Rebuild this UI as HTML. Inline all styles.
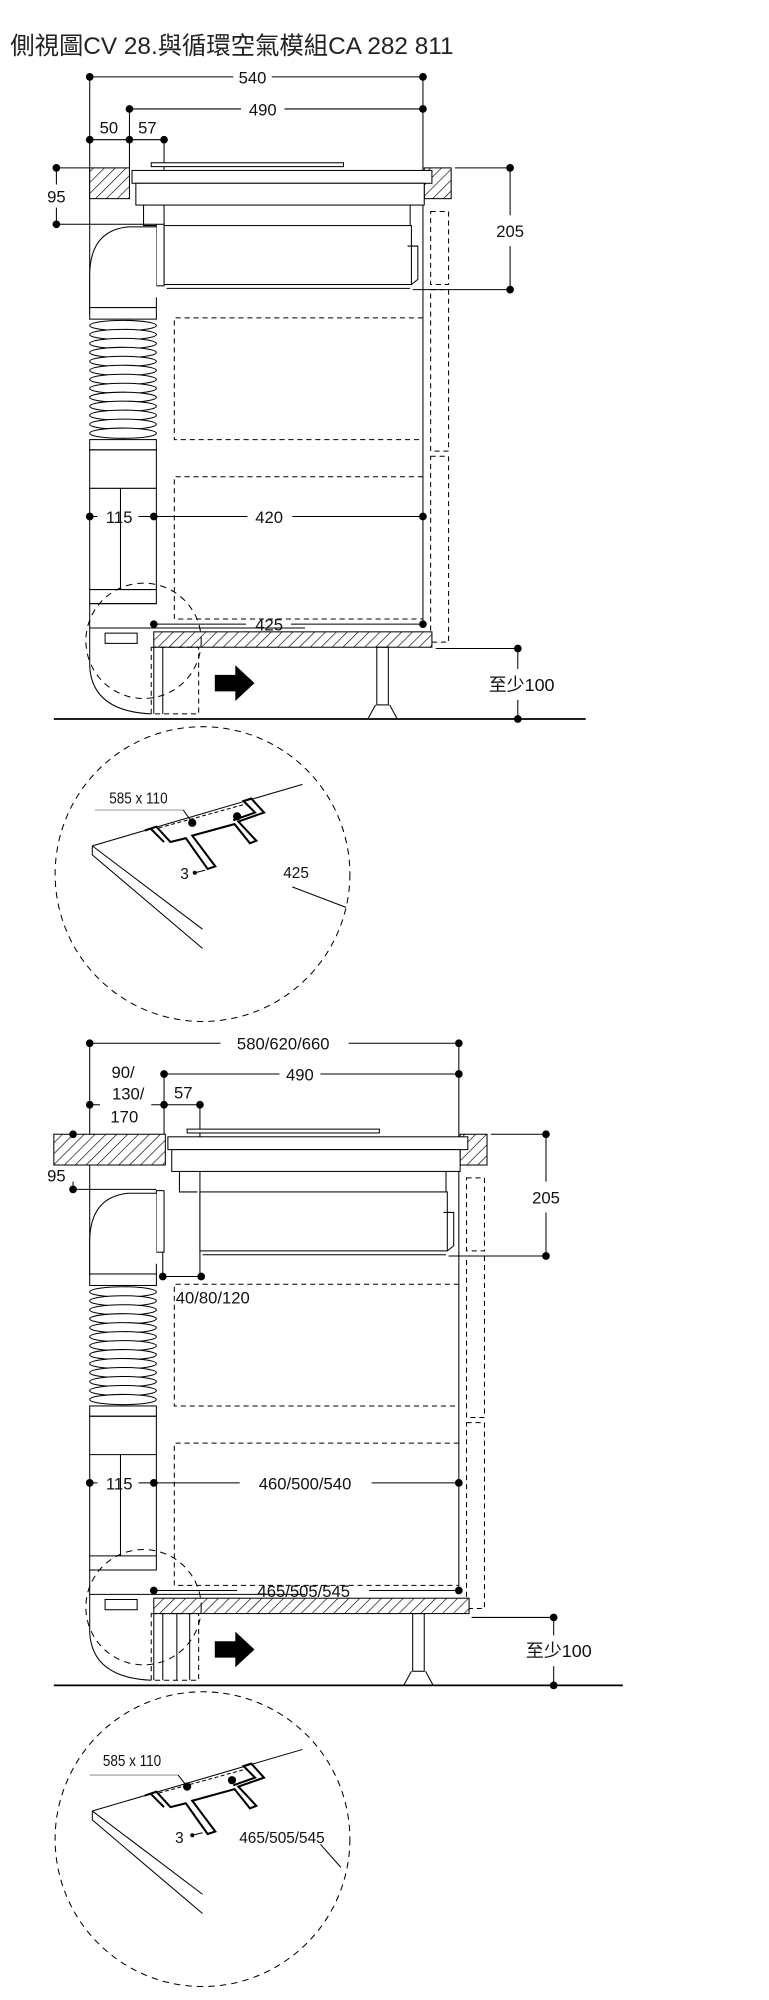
<!DOCTYPE html>
<html><head><meta charset="utf-8"><style>html,body{margin:0;padding:0;background:#fff}svg{display:block}</style></head><body>
<svg width="769" height="2000" viewBox="0 0 600 1560.5" preserveAspectRatio="none" xmlns="http://www.w3.org/2000/svg" font-family="Liberation Sans, Noto Sans CJK TC, sans-serif">
<defs>
<pattern id="h" width="6" height="6" patternUnits="userSpaceOnUse" patternTransform="rotate(45)"><rect width="6" height="6" fill="#fff"/><line x1="0" y1="0" x2="0" y2="6" stroke="#000" stroke-width="1"/></pattern>
</defs>
<text x="8" y="42" font-size="19" fill="#222">側視圖CV 28.與循環空氣模組CA 282 811</text>

<g stroke="#000" fill="none" stroke-width="0.8">
<!-- ===== TOP DIAGRAM ===== -->
<!-- dims lines -->
<line x1="70" y1="60" x2="182" y2="60"/><line x1="212" y1="60" x2="330" y2="60"/>
<line x1="101" y1="85" x2="188" y2="85"/><line x1="222" y1="85" x2="330" y2="85"/>
<line x1="70" y1="109" x2="128" y2="109"/>
<line x1="70" y1="60" x2="70" y2="245"/><line x1="101" y1="85" x2="101" y2="131"/><line x1="128" y1="109" x2="128" y2="178"/>
<line x1="330" y1="60" x2="330" y2="487"/>
<line x1="44" y1="131" x2="70" y2="131"/><line x1="44" y1="175" x2="122" y2="175"/><line x1="44" y1="131" x2="44" y2="144"/><line x1="44" y1="162" x2="44" y2="175"/>
<line x1="355" y1="131" x2="398" y2="131"/><line x1="322" y1="226" x2="398" y2="226"/><line x1="398" y1="131" x2="398" y2="168"/><line x1="398" y1="192" x2="398" y2="226"/>
<line x1="70" y1="403" x2="76" y2="403"/><line x1="108" y1="403" x2="120" y2="403"/><line x1="120" y1="403" x2="193" y2="403"/><line x1="228" y1="403" x2="330" y2="403"/>
<line x1="120" y1="487" x2="192" y2="487"/><line x1="227" y1="487" x2="330" y2="487"/>
<line x1="340" y1="506" x2="404" y2="506"/><line x1="404" y1="506" x2="404" y2="522"/><line x1="404" y1="546" x2="404" y2="561"/>
<line x1="42" y1="561" x2="457" y2="561" stroke-width="1.4"/>
<!-- counters -->
<rect x="70" y="131" width="31" height="24" fill="url(#h)"/>
<rect x="331" y="131" width="21" height="24" fill="url(#h)"/>
<!-- hob -->
<rect x="118" y="127" width="150" height="3" fill="#fff"/>
<rect x="103" y="133" width="234" height="10" fill="#fff"/>
<rect x="106" y="143" width="225" height="17" fill="#fff"/>
<path d="M112,160 V176 H126 M320,160 V176" />
<rect x="128" y="176" width="193" height="46" fill="#fff"/>
<path d="M318,192 H326 V218 L321,222"/>
<line x1="130" y1="225" x2="320" y2="225"/>
<rect x="122" y="175" width="6" height="48" fill="#fff"/>
<!-- dashed column & drawers -->
<g stroke-dasharray="4,3">
<rect x="336" y="165" width="14" height="57"/><rect x="336" y="226" width="14" height="126"/><rect x="336" y="356" width="14" height="145"/>
<path d="M330,248 H136 V343 H330 M330,372 H136 V483 H330"/>
</g>
<!-- pipe -->
<path d="M122,177 H100 Q70,180 70,215 V240 H122 V232" fill="#fff"/>
<rect x="70" y="240" width="52" height="9" fill="#fff"/>
<g fill="#fff"><ellipse cx="96" cy="254" rx="26" ry="4"/><ellipse cx="96" cy="261" rx="26" ry="4"/><ellipse cx="96" cy="268" rx="26" ry="4"/><ellipse cx="96" cy="275" rx="26" ry="4"/><ellipse cx="96" cy="282" rx="26" ry="4"/><ellipse cx="96" cy="289" rx="26" ry="4"/><ellipse cx="96" cy="296" rx="26" ry="4"/><ellipse cx="96" cy="303" rx="26" ry="4"/><ellipse cx="96" cy="310" rx="26" ry="4"/><ellipse cx="96" cy="317" rx="26" ry="4"/><ellipse cx="96" cy="324" rx="26" ry="4"/><ellipse cx="96" cy="331" rx="26" ry="4"/><ellipse cx="96" cy="338" rx="26" ry="4"/></g>
<rect x="70" y="343" width="52" height="8" fill="#fff"/>
<rect x="70" y="351" width="52" height="120"/>
<line x1="70" y1="381" x2="122" y2="381"/><line x1="94" y1="381" x2="94" y2="460"/>
<line x1="70" y1="460" x2="122" y2="460"/><line x1="70" y1="471" x2="122" y2="471"/>
<path d="M70,471 V520 Q72,555 118,557"/>
<!-- bottom counter -->
<line x1="70" y1="490" x2="238" y2="490"/>
<rect x="82" y="494" width="25" height="8"/>
<rect x="120" y="493" width="217" height="12" fill="url(#h)"/>
<line x1="120" y1="505" x2="120" y2="557"/><line x1="127" y1="505" x2="127" y2="557"/>
<rect x="118" y="505" width="37" height="52" stroke-dasharray="4,3"/>
<circle cx="112" cy="500" r="45" stroke-dasharray="5,4"/>
<rect x="294" y="505" width="9" height="45"/>
<path d="M293,550 L287,561 H310 L304,550"/>
<path d="M168,527 H184 V520 L198,533 L184,546 V539 H168 Z" fill="#000"/>
<!-- detail circle 1 -->
<circle cx="158" cy="682" r="115" stroke-dasharray="5,4"/>
<line x1="74" y1="632" x2="143" y2="632" stroke="#999"/><line x1="143" y1="632" x2="150" y2="642"/>
<path d="M72,660 L236,612 M72,660 V667 L158,740 M72,660 L158,725"/>
<path d="M113,648 L122,645 L133,657 L145,654 L162,678 L168,676 L150,652 L183,643 L195,658 L200,656 L186,641 L206,634 L196,623 L190,625 L199,634 L182,640 M118,647 L128,657" stroke-width="1.6"/>
<path d="M124,646 L193,627" stroke-dasharray="3,2"/>
<line x1="152" y1="681" x2="160" y2="679"/>
<line x1="228" y1="692" x2="270" y2="708"/>

<!-- ===== BOTTOM DIAGRAM ===== -->
<line x1="70" y1="814" x2="172" y2="814"/><line x1="272" y1="814" x2="358" y2="814"/>
<line x1="128" y1="838" x2="218" y2="838"/><line x1="250" y1="838" x2="358" y2="838"/>
<line x1="70" y1="862" x2="78" y2="862"/><line x1="118" y1="862" x2="156" y2="862"/>
<line x1="70" y1="814" x2="70" y2="995"/><line x1="128" y1="838" x2="128" y2="885"/><line x1="156" y1="862" x2="156" y2="996"/>
<line x1="358" y1="814" x2="358" y2="1241"/>
<line x1="57" y1="928" x2="122" y2="928"/><line x1="57" y1="885" x2="57" y2="906"/><line x1="57" y1="922" x2="57" y2="928"/>
<line x1="383" y1="885" x2="426" y2="885"/><line x1="350" y1="980" x2="426" y2="980"/><line x1="426" y1="885" x2="426" y2="922"/><line x1="426" y1="946" x2="426" y2="980"/>
<line x1="127" y1="996" x2="157" y2="996"/><line x1="127" y1="960" x2="127" y2="996"/>
<line x1="70" y1="1157" x2="76" y2="1157"/><line x1="108" y1="1157" x2="120" y2="1157"/><line x1="120" y1="1157" x2="187" y2="1157"/><line x1="290" y1="1157" x2="358" y2="1157"/>
<line x1="120" y1="1241" x2="185" y2="1241"/><line x1="288" y1="1241" x2="358" y2="1241"/>
<line x1="368" y1="1262" x2="432" y2="1262"/><line x1="432" y1="1262" x2="432" y2="1276"/><line x1="432" y1="1300" x2="432" y2="1315"/>
<line x1="42" y1="1315" x2="486" y2="1315" stroke-width="1.4"/>
<rect x="42" y="885" width="87" height="24" fill="url(#h)"/>
<rect x="359" y="885" width="21" height="24" fill="url(#h)"/>
<rect x="146" y="881" width="150" height="3" fill="#fff"/>
<rect x="131" y="887" width="234" height="10" fill="#fff"/>
<rect x="134" y="897" width="225" height="17" fill="#fff"/>
<path d="M140,914 V930 H154 M348,914 V930"/>
<rect x="156" y="930" width="193" height="46" fill="#fff"/>
<path d="M346,946 H354 V972 L349,976"/>
<line x1="158" y1="979" x2="348" y2="979"/>
<rect x="122" y="929" width="6" height="48" fill="#fff"/>
<g stroke-dasharray="4,3">
<rect x="364" y="919" width="14" height="57"/><rect x="364" y="980" width="14" height="126"/><rect x="364" y="1110" width="14" height="145"/>
<path d="M358,1002 H136 V1097 H358 M358,1126 H136 V1237 H358"/>
</g>
<path d="M122,931 H100 Q70,934 70,969 V994 H122 V986" fill="#fff"/>
<rect x="70" y="994" width="52" height="9" fill="#fff"/>
<g fill="#fff"><ellipse cx="96" cy="1008" rx="26" ry="4"/><ellipse cx="96" cy="1015" rx="26" ry="4"/><ellipse cx="96" cy="1022" rx="26" ry="4"/><ellipse cx="96" cy="1029" rx="26" ry="4"/><ellipse cx="96" cy="1036" rx="26" ry="4"/><ellipse cx="96" cy="1043" rx="26" ry="4"/><ellipse cx="96" cy="1050" rx="26" ry="4"/><ellipse cx="96" cy="1057" rx="26" ry="4"/><ellipse cx="96" cy="1064" rx="26" ry="4"/><ellipse cx="96" cy="1071" rx="26" ry="4"/><ellipse cx="96" cy="1078" rx="26" ry="4"/><ellipse cx="96" cy="1085" rx="26" ry="4"/><ellipse cx="96" cy="1092" rx="26" ry="4"/></g>
<rect x="70" y="1097" width="52" height="8" fill="#fff"/>
<rect x="70" y="1105" width="52" height="120"/>
<line x1="70" y1="1135" x2="122" y2="1135"/><line x1="94" y1="1135" x2="94" y2="1214"/>
<line x1="70" y1="1214" x2="122" y2="1214"/><line x1="70" y1="1225" x2="122" y2="1225"/>
<path d="M70,1225 V1274 Q72,1309 118,1311"/>
<line x1="70" y1="1244" x2="238" y2="1244"/>
<rect x="82" y="1248" width="25" height="8"/>
<rect x="120" y="1247" width="246" height="12" fill="url(#h)"/>
<line x1="120" y1="1259" x2="120" y2="1311"/><line x1="127" y1="1259" x2="127" y2="1311"/><line x1="138" y1="1259" x2="138" y2="1311"/><line x1="148" y1="1259" x2="148" y2="1311"/>
<rect x="118" y="1259" width="37" height="52" stroke-dasharray="4,3"/>
<circle cx="112" cy="1254" r="45" stroke-dasharray="5,4"/>
<rect x="322" y="1259" width="9" height="45"/>
<path d="M321,1304 L315,1315 H338 L332,1304"/>
<path d="M168,1281 H184 V1274 L198,1287 L184,1300 V1293 H168 Z" fill="#000"/>
<g transform="translate(0,753)">
<circle cx="158" cy="682" r="115" stroke-dasharray="5,4"/>
<line x1="70" y1="632" x2="139" y2="632" stroke="#999"/><line x1="139" y1="632" x2="146" y2="641"/>
<path d="M72,660 L236,612 M72,660 V667 L158,740 M72,660 L158,725"/>
<path d="M113,648 L122,645 L133,657 L145,654 L162,678 L168,676 L150,652 L183,643 L195,658 L200,656 L186,641 L206,634 L196,623 L190,625 L199,634 L182,640 M118,647 L128,657" stroke-width="1.6"/>
<path d="M124,646 L193,627" stroke-dasharray="3,2"/>
<line x1="150" y1="679" x2="158" y2="677"/>
<line x1="250" y1="686" x2="266" y2="704"/>
</g>
</g>

<g fill="#000">
<circle cx="70" cy="60" r="3"/><circle cx="330" cy="60" r="3"/><circle cx="101" cy="85" r="3"/><circle cx="330" cy="85" r="3"/>
<circle cx="70" cy="109" r="3"/><circle cx="101" cy="109" r="3"/><circle cx="128" cy="109" r="3"/>
<circle cx="44" cy="131" r="3"/><circle cx="44" cy="175" r="3"/><circle cx="398" cy="131" r="3"/><circle cx="398" cy="226" r="3"/>
<circle cx="70" cy="403" r="3"/><circle cx="120" cy="403" r="3"/><circle cx="330" cy="403" r="3"/>
<circle cx="120" cy="487" r="3"/><circle cx="330" cy="487" r="3"/><circle cx="404" cy="506" r="3"/><circle cx="404" cy="561" r="3"/>
<circle cx="150" cy="642" r="3.2"/><circle cx="185" cy="637" r="3.2"/><circle cx="152" cy="681" r="1.6"/>
<circle cx="70" cy="814" r="3"/><circle cx="358" cy="814" r="3"/><circle cx="128" cy="838" r="3"/><circle cx="358" cy="838" r="3"/>
<circle cx="70" cy="862" r="3"/><circle cx="128" cy="862" r="3"/><circle cx="156" cy="862" r="3"/>
<circle cx="57" cy="885" r="3"/><circle cx="57" cy="928" r="3"/><circle cx="426" cy="885" r="3"/><circle cx="426" cy="980" r="3"/>
<circle cx="127" cy="996" r="3"/><circle cx="157" cy="996" r="3"/>
<circle cx="70" cy="1157" r="3"/><circle cx="120" cy="1157" r="3"/><circle cx="358" cy="1157" r="3"/>
<circle cx="120" cy="1241" r="3"/><circle cx="358" cy="1241" r="3"/><circle cx="432" cy="1262" r="3"/><circle cx="432" cy="1315" r="3"/>
<circle cx="146" cy="1394" r="3.2"/><circle cx="181" cy="1389" r="3.2"/><circle cx="150" cy="1432" r="1.6"/>
</g>

<g font-size="13" fill="#111" text-anchor="middle">
<text x="197" y="65">540</text><text x="205" y="90">490</text>
<text x="85" y="104">50</text><text x="115" y="104">57</text>
<text x="44" y="158">95</text><text x="398" y="185">205</text>
<text x="93" y="408">115</text><text x="210" y="408">420</text><text x="210" y="492">425</text>
<text x="407" y="539" font-size="14">至少100</text>
<text x="108" y="627" font-size="12" transform="translate(108 0) scale(0.88 1) translate(-108 0)">585 x 110</text>
<text x="144" y="686" font-size="12">3</text>
<text x="231" y="685" font-size="12">425</text>
<text x="221" y="819">580/620/660</text><text x="234" y="843">490</text>
<text x="96" y="841">90/</text><text x="100" y="858">130/</text><text x="97" y="876">170</text>
<text x="143" y="857">57</text>
<text x="44" y="922">95</text><text x="426" y="939">205</text>
<text x="166" y="1017">40/80/120</text>
<text x="93" y="1162">115</text><text x="238" y="1162">460/500/540</text><text x="237" y="1246">465/505/545</text>
<text x="436" y="1293" font-size="14">至少100</text>
<text x="103" y="1378" font-size="12" transform="translate(103 0) scale(0.88 1) translate(-103 0)">585 x 110</text>
<text x="140" y="1438" font-size="12">3</text>
<text x="220" y="1438" font-size="12">465/505/545</text>
</g>
</svg>
</body></html>
